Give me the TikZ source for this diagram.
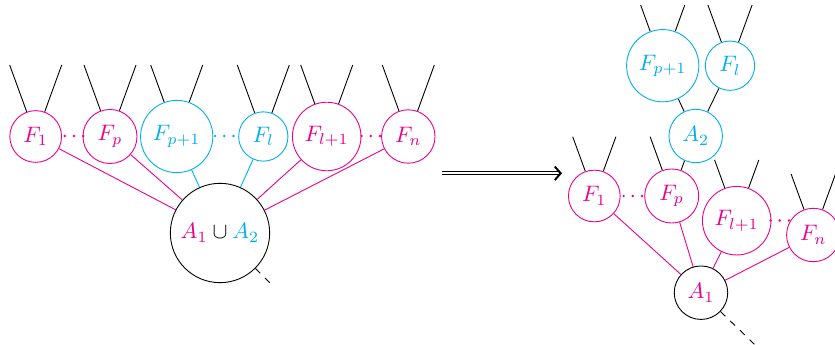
\documentclass[tikz,border=0pt]{standalone}
\usetikzlibrary{calc,backgrounds,arrows.meta}
\definecolor{cyanx}{RGB}{0,174,239}
\definecolor{magx}{RGB}{236,0,140}
\tikzset{
  mnode/.style={circle,draw=magx,text=magx,fill=white},
  cnode/.style={circle,draw=cyanx,text=cyanx,fill=white},
  knode/.style={circle,draw=black,fill=white},
}
\newcommand\kids[2]{%
  \draw let \p1=(#1.110), \p2=(#1.70), \p3=(0,#2) in
    (\p1) -- ++(110:{(\y3-\y1)/sin(110)})
    (\p2) -- ++(70:{(\y3-\y2)/sin(70)});}
% three dots centred on a named coordinate
\newcommand\threedots[2]{%
  \fill[#1] ($(#2)+(-9.2,0)$) circle (0.6pt) (#2) circle (0.6pt) ($(#2)+(9.2,0)$) circle (0.6pt);}
\begin{document}
\begin{tikzpicture}[x=0.4464pt,y=-0.4464pt]
\useasboundingbox (0,0) rectangle (835,345);
% ---------- left tree ----------
\node[mnode] (F1) at (35.7,136.5) {$F_1$};
\node[mnode] (Fp) at (110,136.5) {$F_p$};
\node[cnode] (Fp1) at (176.7,136.5) {$F_{p+1}$};
\node[cnode] (Fl) at (263.3,136.5) {$F_l$};
\node[mnode] (Fl1) at (326.7,136.5) {$F_{l+1}$};
\node[mnode] (Fn) at (408.3,136.5) {$F_n$};
\node[knode] (A) at (220,233) {$\textcolor{magx}{A_1}\cup\textcolor{cyanx}{A_2}$};
\coordinate (d1) at (74,136);
\coordinate (d2) at (224.3,136);
\coordinate (d3) at (370.8,136);
\coordinate (Ad) at ($(A.-45)+(-45:9pt)$);
% ---------- arrow ----------
\coordinate (arrS) at (442,173.3);
\coordinate (arrE) at (562,173.3);
% ---------- right tree ----------
\node[cnode] (Fp1r) at (662.7,65.7) {$F_{p+1}$};
\node[cnode] (Flr) at (730,65.7) {$F_l$};
\node[cnode] (A2) at (695.7,136) {$A_2$};
\node[mnode] (F1r) at (594.3,196) {$F_1$};
\node[mnode] (Fpr) at (671.7,196) {$F_p$};
\node[mnode] (Fl1r) at (736.7,220.7) {$F_{l+1}$};
\node[mnode] (Fnr) at (813.3,235) {$F_n$};
\node[knode] (A1) at (701,292.7) {$\textcolor{magx}{A_1}$};
\coordinate (d4) at (632.8,196);
\coordinate (d5) at (779.8,220.5);
\coordinate (A1d) at ($(A1.-44)+(-44:21pt)$);
\threedots{magx}{d1}\threedots{cyanx}{d2}\threedots{magx}{d3}
\threedots{magx}{d4}\threedots{magx}{d5}
\begin{scope}[on background layer]
  % left
  \kids{F1}{65}\kids{Fp}{65}\kids{Fp1}{65}\kids{Fl}{65}\kids{Fl1}{65}\kids{Fn}{65}
  \draw[magx] (F1) -- (A) (Fp) -- (A) (Fl1) -- (A) (Fn) -- (A);
  \draw[cyanx] (Fp1) -- (A) (Fl) -- (A);
  \draw[dashed] (A.-45) -- (Ad);
  % right
  \kids{Fp1r}{5}\kids{Flr}{5}
  \kids{F1r}{136.7}\kids{Fpr}{136.7}\kids{Fl1r}{160}\kids{Fnr}{174}
  \draw (Fp1r) -- (A2) (Flr) -- (A2);
  \draw[magx] (F1r) -- (A1) (Fpr) -- (A1) (Fl1r) -- (A1) (Fnr) -- (A1);
  \draw[dashed] (A1.-44) -- (A1d);
\end{scope}
\draw[line width=0.45pt,double,double distance=0.9pt,-{Straight Barb[length=2.6pt,width=6pt,line width=0.9pt]}] (arrS) -- (arrE);
\end{tikzpicture}
\end{document}
